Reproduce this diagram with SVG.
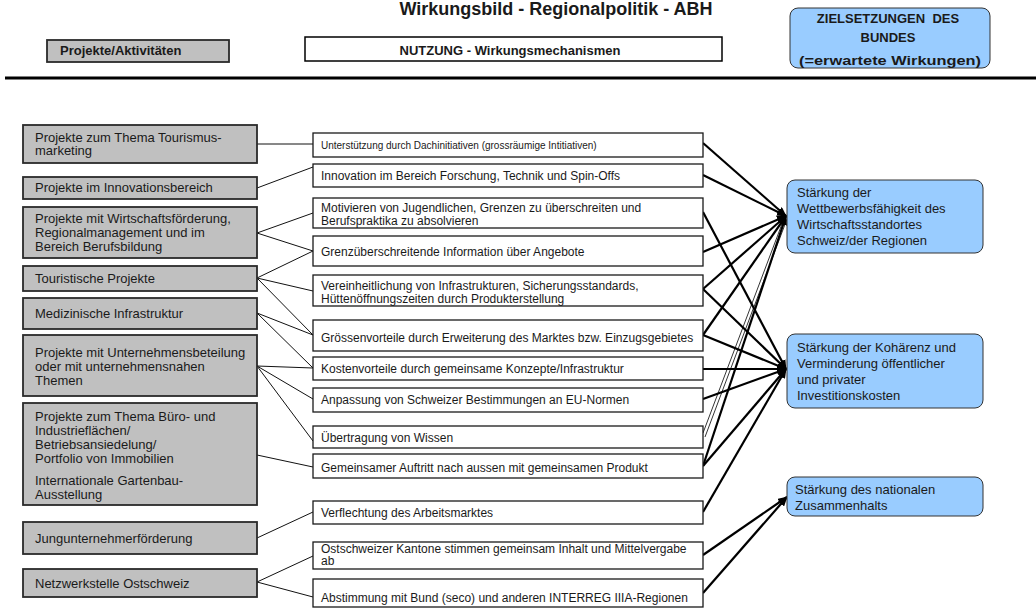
<svg xmlns="http://www.w3.org/2000/svg" width="1036" height="613" viewBox="0 0 1036 613">
  <defs>
    <style>
      text { font-family: "Liberation Sans", Arial, sans-serif; fill: #1a1a1a; }
      .hd { font-weight: bold; font-size: 13px; }
      .lt { font-size: 13px; }
      .mt { font-size: 12px; }
      .rt { font-size: 13px; }
      .lbox { fill: #c0c0c0; stroke: #2a2a2a; stroke-width: 1.8; }
      .mbox { fill: #ffffff; stroke: #1a1a1a; stroke-width: 1.3; }
      .rbox { fill: #99ccff; stroke: #333333; stroke-width: 1; }
      .thin { stroke: #111; stroke-width: 1; fill: none; }
      .bold { stroke: #000; stroke-width: 2.2; fill: none; marker-end: url(#arr); }
      .hair { stroke: #000; stroke-width: 0.8; fill: none; }
    </style>
    <marker id="arr" markerUnits="userSpaceOnUse" markerWidth="10" markerHeight="8" refX="9" refY="4" orient="auto">
      <path d="M0,0 L10,4 L0,8 z" fill="#000"/>
    </marker>
  </defs>

  <rect width="1036" height="613" fill="#ffffff"/>

  <!-- header -->
  <g id="header">
    <text x="556" y="14.5" text-anchor="middle" font-weight="bold" font-size="18">Wirkungsbild - Regionalpolitik - ABH</text>
    <g id="head-projekte">
      <rect x="47" y="40" width="182" height="22" class="lbox"/>
      <text x="60" y="55" class="hd">Projekte/Aktivitäten</text>
    </g>
    <g id="head-nutzung">
      <rect x="305" y="37" width="417" height="24" fill="#fff" stroke="#000" stroke-width="1.5"/>
      <text x="510" y="54.5" class="hd" text-anchor="middle">NUTZUNG - Wirkungsmechanismen</text>
    </g>
    <g id="head-ziele">
      <rect x="790" y="8" width="200" height="60" rx="8" class="rbox"/>
      <text x="888" y="23" class="hd" text-anchor="middle" xml:space="preserve">ZIELSETZUNGEN  DES</text>
      <text x="888" y="42" class="hd" text-anchor="middle">BUNDES</text>
      <text x="799" y="65" class="hd" textLength="182" lengthAdjust="spacingAndGlyphs">(=erwartete Wirkungen)</text>
    </g>
    <line x1="5" y1="78" x2="1036" y2="78" stroke="#000" stroke-width="3"/>
  </g>

  <!-- connectors -->
  <g id="connectors">
    <!-- projects to mechanisms -->
    <path class="thin" d="M257,144 L313,144"/>
    <path class="thin" d="M257,188 L313,167"/>
    <path class="thin" d="M257,233 L313,213 M257,233 L313,251"/>
    <path class="thin" d="M257,278 L313,251 M257,278 L313,291 M257,278 L313,335"/>
    <path class="thin" d="M257,313 L313,335 M257,313 L313,368"/>
    <path class="thin" d="M257,366 L313,368 M257,366 L313,399 M257,366 L313,441"/>
    <path class="thin" d="M257,455 L313,467"/>
    <path class="thin" d="M257,538 L313,512"/>
    <path class="thin" d="M257,582 L313,556 M257,582 L313,597"/>

    <!-- mechanisms to objectives -->
    <path class="bold" d="M703,143 L786,216"/>
    <path class="bold" d="M703,175 L786,216"/>
    <path class="bold" d="M703,212 L786,369"/>
    <path class="bold" d="M703,252 L786,216"/>
    <path class="bold" d="M703,289 L786,216"/>
    <path class="bold" d="M703,289 L786,369"/>
    <path class="bold" d="M703,335 L786,216"/>
    <path class="bold" d="M703,335 L786,369"/>
    <path class="bold" d="M703,369 L786,369"/>
    <path class="bold" d="M703,399 L786,369"/>
    <path class="hair" d="M703,433 L785,216"/>
    <path class="hair" d="M705,437 L787,219"/>
    <path class="bold" d="M703,466 L786,216"/>
    <path class="bold" d="M703,466 L786,369"/>
    <path class="bold" d="M703,512 L786,369"/>
    <path class="bold" d="M703,555 L787,497"/>
    <path class="bold" d="M703,593 L787,497"/>
  </g>

  <!-- projects / activities -->
  <g id="p1"><rect x="23" y="125" width="234" height="38" class="lbox"/>
    <text class="lt" x="35" y="142">Projekte zum Thema Tourismus-</text>
    <text class="lt" x="35" y="155">marketing</text></g>
  <g id="p2"><rect x="23" y="177" width="234" height="22" class="lbox"/>
    <text class="lt" x="35" y="192">Projekte im Innovationsbereich</text></g>
  <g id="p3"><rect x="23" y="207" width="234" height="51" class="lbox"/>
    <text class="lt" x="35" y="223">Projekte mit Wirtschaftsförderung,</text>
    <text class="lt" x="35" y="237">Regionalmanagement und im</text>
    <text class="lt" x="35" y="251">Bereich Berufsbildung</text></g>
  <g id="p4"><rect x="23" y="266" width="234" height="25" class="lbox"/>
    <text class="lt" x="35" y="283">Touristische Projekte</text></g>
  <g id="p5"><rect x="23" y="298" width="234" height="31" class="lbox"/>
    <text class="lt" x="35" y="318">Medizinische Infrastruktur</text></g>
  <g id="p6"><rect x="23" y="335" width="234" height="61" class="lbox"/>
    <text class="lt" x="35" y="357">Projekte mit Unternehmensbeteilung</text>
    <text class="lt" x="35" y="371">oder mit unternehmensnahen</text>
    <text class="lt" x="35" y="385">Themen</text></g>
  <g id="p7"><rect x="23" y="403" width="234" height="102" class="lbox"/>
    <text class="lt" x="35" y="421">Projekte zum Thema Büro- und</text>
    <text class="lt" x="35" y="435">Industrieflächen/</text>
    <text class="lt" x="35" y="449">Betriebsansiedelung/</text>
    <text class="lt" x="35" y="463">Portfolio von Immobilien</text>
    <text class="lt" x="35" y="485">Internationale Gartenbau-</text>
    <text class="lt" x="35" y="499">Ausstellung</text></g>
  <g id="p8"><rect x="23" y="522" width="234" height="32" class="lbox"/>
    <text class="lt" x="35" y="543">Jungunternehmerförderung</text></g>
  <g id="p9"><rect x="23" y="569" width="234" height="28" class="lbox"/>
    <text class="lt" x="35" y="588">Netzwerkstelle Ostschweiz</text></g>

  <!-- mechanisms -->
  <g id="m1"><rect x="313" y="133" width="390" height="24" class="mbox"/>
    <text x="321" y="149" font-size="10">Unterstützung durch Dachinitiativen (grossräumige Intitiativen)</text></g>
  <g id="m2"><rect x="313" y="164" width="390" height="23" class="mbox"/>
    <text class="mt" x="321" y="180">Innovation im Bereich Forschung, Technik und Spin-Offs</text></g>
  <g id="m3"><rect x="313" y="198" width="390" height="30" class="mbox"/>
    <text class="mt" x="321" y="212">Motivieren von Jugendlichen, Grenzen zu überschreiten und</text>
    <text class="mt" x="321" y="225">Berufspraktika zu absolvieren</text></g>
  <g id="m4"><rect x="313" y="236" width="390" height="30" class="mbox"/>
    <text class="mt" x="321" y="256">Grenzüberschreitende Information über Angebote</text></g>
  <g id="m5"><rect x="313" y="275" width="390" height="31" class="mbox"/>
    <text class="mt" x="321" y="290">Vereinheitlichung von Infrastrukturen, Sicherungsstandards,</text>
    <text class="mt" x="321" y="303">Hüttenöffnungszeiten durch Produkterstellung</text></g>
  <g id="m6"><rect x="313" y="320" width="390" height="31" class="mbox"/>
    <text class="mt" x="321" y="342">Grössenvorteile durch Erweiterung des Marktes bzw. Einzugsgebietes</text></g>
  <g id="m7"><rect x="313" y="357" width="390" height="23" class="mbox"/>
    <text class="mt" x="321" y="373">Kostenvorteile durch gemeinsame Konzepte/Infrastruktur</text></g>
  <g id="m8"><rect x="313" y="388" width="390" height="24" class="mbox"/>
    <text class="mt" x="321" y="404">Anpassung von Schweizer Bestimmungen an EU-Normen</text></g>
  <g id="m9"><rect x="313" y="426" width="390" height="22" class="mbox"/>
    <text class="mt" x="321" y="442">Übertragung von Wissen</text></g>
  <g id="m10"><rect x="313" y="454" width="390" height="24" class="mbox"/>
    <text class="mt" x="321" y="472">Gemeinsamer Auftritt nach aussen mit gemeinsamen Produkt</text></g>
  <g id="m11"><rect x="313" y="501" width="390" height="23" class="mbox"/>
    <text class="mt" x="321" y="517">Verflechtung des Arbeitsmarktes</text></g>
  <g id="m12"><rect x="313" y="542" width="390" height="27" class="mbox"/>
    <text class="mt" x="321" y="553">Ostschweizer Kantone stimmen gemeinsam Inhalt und Mittelvergabe</text>
    <text class="mt" x="321" y="565">ab</text></g>
  <g id="m13"><rect x="313" y="579" width="390" height="28" class="mbox"/>
    <text class="mt" x="321" y="602">Abstimmung mit Bund (seco) und anderen INTERREG IIIA-Regionen</text></g>

  <!-- objectives -->
  <g id="z1"><rect x="787" y="180" width="196" height="73" rx="8" class="rbox"/>
    <text class="rt" x="797" y="197">Stärkung der</text>
    <text class="rt" x="797" y="213">Wettbewerbsfähigkeit des</text>
    <text class="rt" x="797" y="229">Wirtschaftsstandortes</text>
    <text class="rt" x="797" y="245">Schweiz/der Regionen</text></g>
  <g id="z2"><rect x="787" y="334" width="196" height="74" rx="8" class="rbox"/>
    <text class="rt" x="797" y="352">Stärkung der Kohärenz und</text>
    <text class="rt" x="797" y="368">Verminderung öffentlicher</text>
    <text class="rt" x="797" y="384">und privater</text>
    <text class="rt" x="797" y="400">Investitionskosten</text></g>
  <g id="z3"><rect x="787" y="477" width="196" height="39" rx="8" class="rbox"/>
    <text class="rt" x="795" y="494">Stärkung des nationalen</text>
    <text class="rt" x="795" y="510">Zusammenhalts</text></g>
</svg>
